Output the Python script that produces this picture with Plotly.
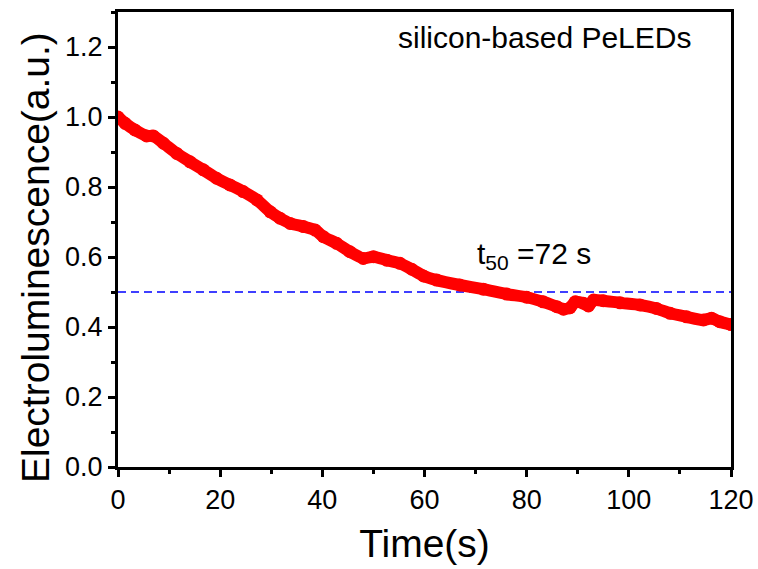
import plotly.graph_objects as go

time_s = [0.0, 1.4, 3.3, 5.6, 6.9, 8.9, 11.5, 14.1, 16.7, 19.3, 21.9, 24.5, 27.2,
          29.8, 31.7, 33.7, 36.3, 38.6, 40.2, 42.8, 45.4, 48.0, 50.0, 52.6, 55.2,
          57.5, 59.8, 62.4, 66.9, 71.5, 76.1, 80.0, 83.2, 85.9, 87.2, 88.5, 89.5,
          91.1, 92.1, 93.1, 95.0, 98.3, 102.2, 105.4, 108.1, 111.3, 114.6, 116.2,
          117.8, 120.0]
el = [1.000, 0.982, 0.963, 0.946, 0.946, 0.925, 0.896, 0.872, 0.849, 0.825, 0.806,
      0.787, 0.763, 0.729, 0.711, 0.696, 0.687, 0.677, 0.658, 0.639, 0.615, 0.596,
      0.601, 0.591, 0.582, 0.565, 0.546, 0.534, 0.520, 0.508, 0.494, 0.485, 0.472,
      0.458, 0.451, 0.455, 0.472, 0.468, 0.460, 0.477, 0.475, 0.469, 0.463, 0.453,
      0.439, 0.429, 0.420, 0.425, 0.415, 0.407]

t50_level = 0.5
x_range = [0, 120]
y_range = [0, 1.3]

FONT = "Liberation Sans, Arial, sans-serif"
M_L, M_R, M_T, M_B = 118, 27, 12, 102
W, H = 758, 569

fig = go.Figure()
fig.add_trace(go.Scatter(
    x=x_range, y=[t50_level, t50_level], mode="lines",
    line=dict(color="#0000ff", width=1.5, dash="8px,5px"),
    showlegend=False, hoverinfo="skip"))
fig.add_trace(go.Scatter(
    x=time_s, y=el, mode="lines+markers",
    line=dict(color="#ff0000", width=12, shape="spline", smoothing=0.6),
    marker=dict(color="#ff0000", size=13),
    showlegend=False))

axis_common = dict(
    showline=True, linecolor="black", linewidth=3, mirror=True,
    ticks="outside", ticklen=7, tickwidth=3, tickcolor="black",
    showgrid=False, zeroline=False, automargin=False,
    tickfont=dict(family=FONT, size=27, color="black"),
)

fig.update_xaxes(
    range=x_range, dtick=20, tick0=0, ticklabeloverflow="allow",
    minor=dict(dtick=10, ticks="outside", ticklen=4, tickwidth=3, tickcolor="black"),
    title=dict(text="Time(s)", font=dict(family=FONT, size=39, color="black"), standoff=16),
    **axis_common)
fig.update_yaxes(
    range=y_range, dtick=0.2, tick0=0, tickformat=".1f",
    minor=dict(dtick=0.1, ticks="outside", ticklen=4, tickwidth=3, tickcolor="black"),
    **axis_common)

plot_w = W - M_L - M_R
plot_h = H - M_T - M_B

# y-axis title placed as rotated text
fig.add_annotation(x=(35 - M_L) / plot_w, y=(H - M_B - 258) / plot_h,
                   xref="paper", yref="paper", xanchor="center", yanchor="middle",
                   text="Electroluminescence(a.u.)", showarrow=False, textangle=-90,
                   font=dict(family=FONT, size=39, color="black"))

fig.add_annotation(x=(693 - M_L) / plot_w, y=0.945, xref="paper", yref="paper",
                   xanchor="right", yanchor="middle",
                   text="silicon-based PeLEDs", showarrow=False,
                   font=dict(family=FONT, size=30, color="black"))
fig.add_annotation(x=81.5, y=0.605, xref="x", yref="y", xanchor="center", yanchor="middle",
                   text="t<sub>50</sub> =72 s", showarrow=False,
                   font=dict(family=FONT, size=30, color="black"))

fig.update_layout(
    width=W, height=H,
    margin=dict(l=M_L, r=M_R, t=M_T, b=M_B),
    plot_bgcolor="white", paper_bgcolor="white",
)

fig.write_html("out.html")
